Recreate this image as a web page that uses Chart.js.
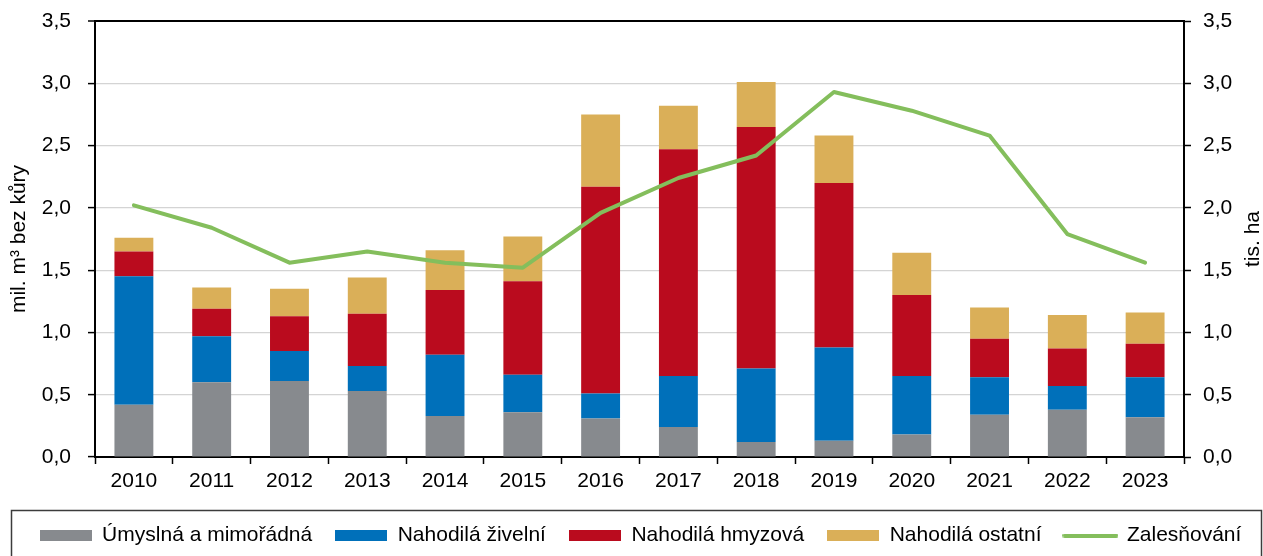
<!DOCTYPE html>
<html>
<head>
<meta charset="utf-8">
<script src="https://cdn.jsdelivr.net/npm/chart.js@4.4.1/dist/chart.umd.min.js"></script>
<style>
  body { margin: 0; background: #fff; }
  #wrap { width: 1263px; height: 556px; position: relative; }
</style>
</head>
<body>
<div id="wrap"><canvas id="chart"></canvas></div>
<script>
const years = ["2010","2011","2012","2013","2014","2015","2016","2017","2018","2019","2020","2021","2022","2023"];
const umyslna  = [0.42, 0.60, 0.61, 0.53, 0.33, 0.36, 0.31, 0.24, 0.12, 0.13, 0.18, 0.34, 0.38, 0.32];
const zivelni  = [1.03, 0.37, 0.24, 0.20, 0.49, 0.30, 0.20, 0.41, 0.59, 0.75, 0.47, 0.30, 0.19, 0.32];
const hmyzova  = [0.20, 0.22, 0.28, 0.42, 0.52, 0.75, 1.66, 1.82, 1.94, 1.32, 0.65, 0.31, 0.30, 0.27];
const ostatni  = [0.11, 0.17, 0.22, 0.29, 0.32, 0.36, 0.58, 0.35, 0.36, 0.38, 0.34, 0.25, 0.27, 0.25];
const zalesnovani = [2.02, 1.84, 1.56, 1.65, 1.56, 1.52, 1.96, 2.24, 2.42, 2.93, 2.78, 2.58, 1.79, 1.56];
const yTicksMax = 3.5;

const FONT = '"Liberation Sans", Arial, sans-serif';
const colors = {
    umyslna: "#878A8E",
    zivelni: "#0070BA",
    hmyzova: "#BA0B1E",
    ostatni: "#DAAF58",
    line: "#84BE5C"
};

// small canvases used as legend swatches
function swatch(w, h, color, round) {
    const c = document.createElement("canvas");
    c.width = w; c.height = h;
    const g = c.getContext("2d");
    g.fillStyle = color;
    if (round) {
        g.beginPath();
        g.moveTo(h / 2, 0);
        g.lineTo(w - h / 2, 0);
        g.arc(w - h / 2, h / 2, h / 2, -Math.PI / 2, Math.PI / 2);
        g.lineTo(h / 2, h);
        g.arc(h / 2, h / 2, h / 2, Math.PI / 2, Math.PI * 1.5);
        g.fill();
    } else {
        g.fillRect(0, 0, w, h);
    }
    return c;
}
const swatches = [
    swatch(52, 11, colors.umyslna),
    swatch(52, 11, colors.zivelni),
    swatch(52, 11, colors.hmyzova),
    swatch(52, 11, colors.ostatni),
    swatch(56, 4, colors.line, true)
];

const fmt = v => Number(v).toFixed(1).replace(".", ",");

// keep the plot area where the reference has it
const noPad = scale => { scale.paddingTop = 0; scale.paddingBottom = 0; };

const extras = {
    id: "extras",
    afterLayout(chart) {
        // legend row sits a bit right of centre in the reference
        chart.legend.left += 9;
        chart.legend.right += 9;
    },
    beforeDraw(chart) {
        const ctx = chart.ctx;
        ctx.save();
        ctx.strokeStyle = "#3c3c3c";
        ctx.lineWidth = 1.5;
        ctx.strokeRect(11.5, 510.5, 1250, 60);
        ctx.restore();
    },
    afterDraw(chart) {
        const ctx = chart.ctx;
        const a = chart.chartArea;
        ctx.save();
        ctx.translate(1253, (a.top + a.bottom) / 2);
        ctx.rotate(-Math.PI / 2);
        ctx.font = "21px " + FONT;
        ctx.textAlign = "center";
        ctx.textBaseline = "middle";
        ctx.fillStyle = "#000";
        ctx.fillText("tis. ha", 0, 0);
        ctx.restore();
    }
};

const barSet = (label, data, color) => ({
    type: "bar",
    label: label,
    data: data,
    backgroundColor: color,
    borderWidth: 0,
    stack: "s",
    yAxisID: "y",
    order: 1,
    barPercentage: 0.5,
    categoryPercentage: 1
});

const ctx = document.getElementById("chart").getContext("2d");
new Chart(ctx, {
    data: {
        labels: years,
        datasets: [
            barSet("Úmyslná a mimořádná", umyslna, colors.umyslna),
            barSet("Nahodilá živelní", zivelni, colors.zivelni),
            barSet("Nahodilá hmyzová", hmyzova, colors.hmyzova),
            barSet("Nahodilá ostatní", ostatni, colors.ostatni),
            {
                type: "line",
                label: "Zalesňování",
                data: zalesnovani,
                borderColor: colors.line,
                backgroundColor: colors.line,
                borderWidth: 4,
                pointRadius: 0,
                borderJoinStyle: "round",
                borderCapStyle: "round",
                tension: 0,
                yAxisID: "y2",
                order: -1
            }
        ]
    },
    options: {
        responsive: true,
        maintainAspectRatio: false,
        animation: false,
        layout: { padding: { top: 21, left: 0, right: 0, bottom: 0 } },
        plugins: {
            tooltip: { enabled: false },
            legend: {
                position: "bottom",
                labels: {
                    usePointStyle: true,
                    pointStyleWidth: 52,
                    padding: 23,
                    color: "#000",
                    font: { size: 21, family: FONT },
                    sort: (a, b) => a.datasetIndex - b.datasetIndex,
                    generateLabels(chart) {
                        const items = Chart.defaults.plugins.legend.labels.generateLabels(chart);
                        items.forEach(it => { it.pointStyle = swatches[it.datasetIndex]; });
                        return items;
                    }
                }
            }
        },
        scales: {
            x: {
                stacked: true,
                offset: true,
                grid: {
                    offset: true,
                    drawOnChartArea: false,
                    drawTicks: true,
                    tickLength: 7,
                    tickColor: "#000",
                    tickWidth: 1.5
                },
                border: { color: "#000", width: 2 },
                ticks: {
                    color: "#000",
                    padding: 5,
                    font: { size: 21, family: FONT }
                },
                afterFit(scale) { scale.height = 45; }
            },
            y: {
                stacked: true,
                position: "left",
                min: 0,
                max: yTicksMax,
                ticks: {
                    stepSize: 0.5,
                    color: "#000",
                    padding: 17,
                    font: { size: 21, family: FONT },
                    callback: fmt
                },
                grid: {
                    color: c => (c.tick && c.tick.value === yTicksMax) ? "#000" : "#d4d4d4",
                    lineWidth: c => (c.tick && c.tick.value === yTicksMax) ? 2 : 1.2,
                    tickColor: "#000",
                    tickLength: 7,
                    tickWidth: 1.5
                },
                border: { color: "#000", width: 2 },
                title: {
                    display: true,
                    text: "mil. m³ bez kůry",
                    color: "#000",
                    padding: { top: 7, bottom: 0 },
                    font: { size: 21, family: FONT }
                },
                afterFit(scale) { scale.width = 95; noPad(scale); }
            },
            y2: {
                position: "right",
                min: 0,
                max: yTicksMax,
                ticks: {
                    stepSize: 0.5,
                    color: "#000",
                    padding: 12,
                    font: { size: 21, family: FONT },
                    callback: fmt
                },
                grid: {
                    drawOnChartArea: false,
                    tickColor: "#000",
                    tickLength: 7,
                    tickWidth: 1.5
                },
                border: { color: "#000", width: 2 },
                afterFit(scale) { scale.width = 79; noPad(scale); }
            }
        }
    },
    plugins: [extras]
});
</script>
</body>
</html>
